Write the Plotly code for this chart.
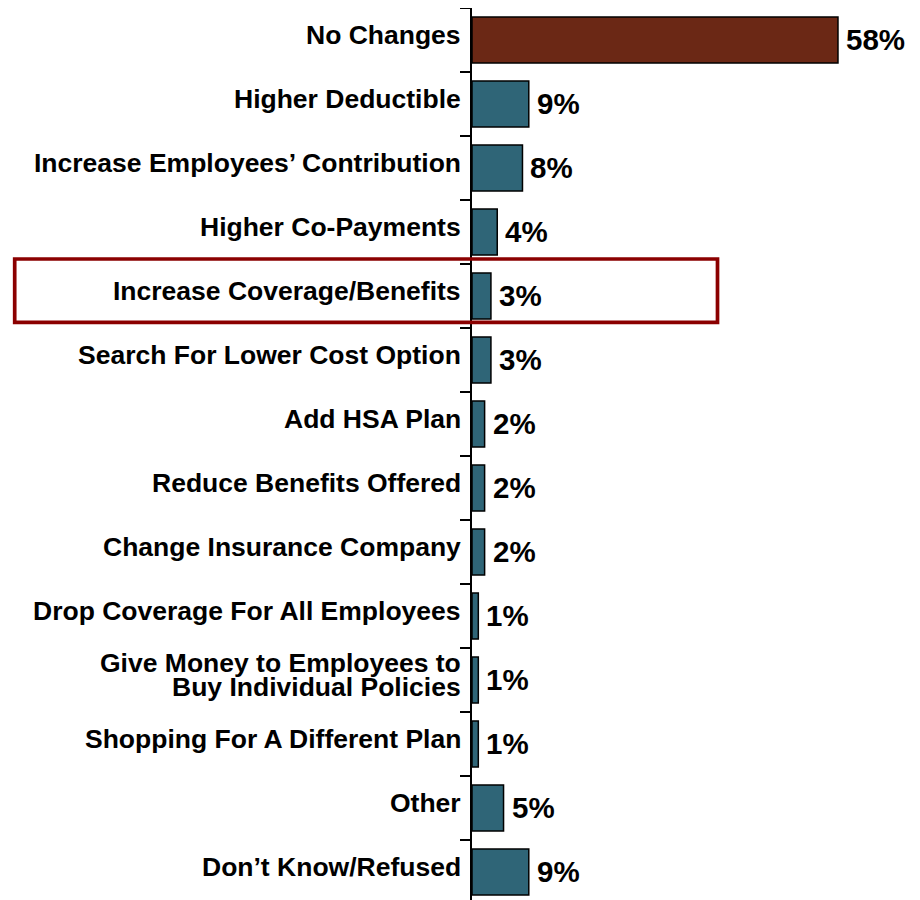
import plotly.graph_objects as go

categories = [
    "No Changes",
    "Higher Deductible",
    "Increase Employees’ Contribution",
    "Higher Co-Payments",
    "Increase Coverage/Benefits",
    "Search For Lower Cost Option",
    "Add HSA Plan",
    "Reduce Benefits Offered",
    "Change Insurance Company",
    "Drop Coverage For All Employees",
    "Give Money to Employees to<br>Buy Individual Policies",
    "Shopping For A Different Plan",
    "Other",
    "Don’t Know/Refused",
]
values = [58, 9, 8, 4, 3, 3, 2, 2, 2, 1, 1, 1, 5, 9]
value_labels = ["58%", "9%", "8%", "4%", "3%", "3%", "2%", "2%", "2%", "1%", "1%", "1%", "5%", "9%"]

BROWN = "#6B2815"
TEAL = "#2F6577"
FONT = "Liberation Sans, Arial, sans-serif"

colors = [BROWN if c == "No Changes" else TEAL for c in categories]

fig = go.Figure(
    go.Bar(
        x=values,
        y=categories,
        orientation="h",
        marker=dict(color=colors, line=dict(color="black", width=1.5)),
        width=0.72,
        hoverinfo="skip",
    )
)

annotations = []
for cat, val, lab in zip(categories, values, value_labels):
    lines = cat.split("<br>")
    n = len(lines)
    for i, line in enumerate(lines):
        shift = ((n - 1) / 2 - i) * 24 + 5
        annotations.append(dict(
            x=0, xref="paper", xanchor="right", xshift=-9,
            y=cat, yref="y", yanchor="middle", yshift=shift,
            text=line, showarrow=False,
            font=dict(family=FONT, size=26.5, color="black", weight="bold"),
        ))
    annotations.append(dict(
        x=val, xref="x", xanchor="left", xshift=6,
        y=cat, yref="y", yanchor="middle", yshift=1,
        text=lab, showarrow=False,
        font=dict(family=FONT, size=29.5, color="black", weight="bold"),
    ))

# page has an 8px body margin; size the figure to fit the 920x900 window
OFF = 8
W, H = 920 - OFF, 900 - OFF
axis_px = 472            # page x of the value axis
plot_w = 920 - axis_px
plot_h = 900 - OFF
band = 64
bottom_val = -0.5 + plot_h / band


def px_x(px):
    return (px - axis_px) / plot_w


def px_y(py):
    return (900 - py) / plot_h


fig.update_layout(
    width=W, height=H,
    margin=dict(l=axis_px - OFF, r=0, t=0, b=0, pad=0),
    plot_bgcolor="white", paper_bgcolor="white",
    showlegend=False,
    xaxis=dict(range=[0, plot_w / 6.31], visible=False, fixedrange=True),
    yaxis=dict(
        type="category",
        categoryorder="array", categoryarray=categories,
        range=[bottom_val, -0.5],
        showticklabels=False,
        showline=True, linecolor="black", linewidth=1.5,
        ticks="outside", tickson="boundaries", ticklen=10,
        tickcolor="black", tickwidth=1.5,
        showgrid=False, zeroline=False,
    ),
    annotations=annotations,
    shapes=[dict(
        type="rect", xref="paper", yref="paper",
        x0=px_x(14.7), x1=px_x(717.5),
        y0=px_y(322.4), y1=px_y(259),
        line=dict(color="#8B0000", width=3.7),
        fillcolor="rgba(0,0,0,0)",
        layer="above",
    )],
)

fig.write_html("out.html")
